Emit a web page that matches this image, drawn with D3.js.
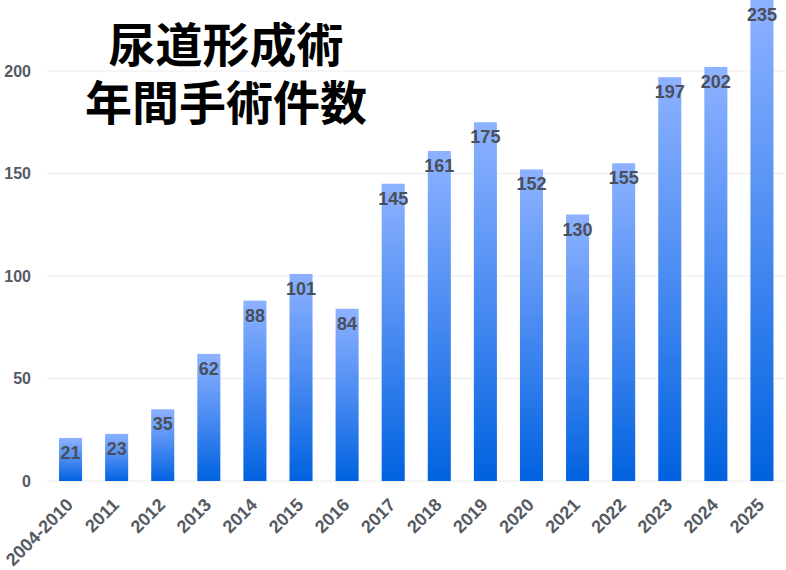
<!DOCTYPE html>
<html>
<head>
<meta charset="utf-8">
<script src="https://cdn.jsdelivr.net/npm/d3@7"></script>
<style>
  body { margin: 0; background: #fff; }
  .axis text { font-family: "Liberation Sans", Arial, sans-serif; font-weight: bold; fill: #555a63; }
</style>
</head>
<body>
<div id="chart"></div>
<script>
const years = ["2004-2010", "2011", "2012", "2013", "2014", "2015", "2016", "2017",
  "2018", "2019", "2020", "2021", "2022", "2023", "2024", "2025"];
const counts = [21, 23, 35, 62, 88, 101, 84, 145, 161, 175, 152, 130, 155, 197, 202, 235];
const yTicks = [0, 50, 100, 150, 200];
const titleLines = ["尿道形成術", "年間手術件数"];

const w = 786, h = 570;
const plotLeft = 47.5, plotRight = 785, plotTop = 71, plotBottom = 481;

const svg = d3.select("#chart").append("svg").attr("width", w).attr("height", h);

const defs = svg.append("defs");
const grad = defs.append("linearGradient").attr("id", "barGrad")
  .attr("x1", 0).attr("y1", 0).attr("x2", 0).attr("y2", 1);
grad.append("stop").attr("offset", "0%").attr("stop-color", "#8db2ff");
grad.append("stop").attr("offset", "50%").attr("stop-color", "#4a8bf2");
grad.append("stop").attr("offset", "100%").attr("stop-color", "#0062df");

const x = d3.scaleBand().domain(years).range([plotLeft, plotRight]).paddingInner(0.5).paddingOuter(0.25);
const y = d3.scaleLinear().domain([0, 200]).range([plotBottom, plotTop]);

// gridlines
svg.append("g").selectAll("line").data(yTicks).join("line")
  .attr("x1", plotLeft).attr("x2", w)
  .attr("y1", d => y(d)).attr("y2", d => y(d))
  .attr("stroke", "#ececec").attr("stroke-width", 1);

// y axis
const yAxis = d3.axisLeft(y).tickValues(yTicks).tickSize(0).tickPadding(0);
svg.append("g").attr("class", "axis").attr("transform", "translate(31,0)")
  .call(yAxis)
  .call(g => g.select(".domain").remove())
  .selectAll("text").style("font-size", "16px");

// bars
const data = years.map((k, i) => ({ year: k, n: counts[i] }));
svg.append("g").selectAll("rect").data(data).join("rect")
  .attr("x", d => x(d.year))
  .attr("y", d => y(d.n))
  .attr("width", x.bandwidth())
  .attr("height", d => plotBottom - y(d.n))
  .attr("fill", "url(#barGrad)");

// value labels
svg.append("g").selectAll("text").data(data).join("text")
  .attr("x", d => x(d.year) + x.bandwidth() / 2)
  .attr("y", d => Math.max(y(d.n), 0) + 15)
  .attr("text-anchor", "middle")
  .attr("dominant-baseline", "central")
  .style("font-family", "Liberation Sans, Arial, sans-serif")
  .style("font-weight", "bold")
  .style("font-size", "18px")
  .style("fill", "#4a4f5a")
  .text(d => d.n);

// x axis
const xAxis = d3.axisBottom(x).tickSize(0).tickPadding(0);
svg.append("g").attr("class", "axis").attr("transform", "translate(0," + plotBottom + ")")
  .call(xAxis)
  .call(g => g.select(".domain").remove())
  .selectAll("text")
  .style("font-size", "18px")
  .attr("text-anchor", "end")
  .attr("dy", null)
  .attr("y", 0)
  .attr("transform", "translate(3.5,25) rotate(-45)");

// title
svg.append("g").selectAll("text").data(titleLines).join("text")
  .attr("x", 226)
  .attr("y", (d, i) => 41 + i * 58)
  .attr("text-anchor", "middle")
  .attr("dominant-baseline", "central")
  .style("font-family", "Noto Sans CJK JP, sans-serif")
  .style("font-weight", "bold")
  .style("font-size", "47px")
  .style("fill", "#000")
  .text(d => d);
</script>
</body>
</html>
